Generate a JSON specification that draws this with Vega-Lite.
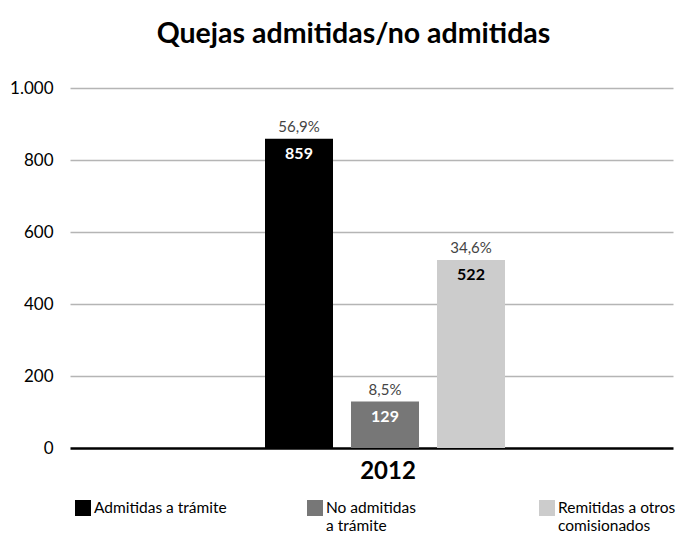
{
  "$schema": "https://vega.github.io/schema/vega-lite/v6.json",
  "autosize": "none",
  "width": 603,
  "height": 360,
  "padding": {"left": 70, "top": 88, "right": 6, "bottom": 87},
  "background": "white",
  "config": {
    "font": "Lato",
    "view": {"stroke": null},
    "locale": {"number": {"decimal": ",", "thousands": ".", "grouping": [3], "currency": ["", " €"]}}
  },
  "title": {
    "text": "Quejas admitidas/no admitidas",
    "fontSize": 28.5,
    "fontWeight": "bold",
    "color": "#000000",
    "anchor": "middle",
    "frame": "group",
    "dx": -18,
    "offset": 31
  },
  "data": {
    "values": [
      {"year": "2012", "serie": "Admitidas a trámite", "value": 859, "pct": 0.569},
      {"year": "2012", "serie": "No admitidas a trámite", "value": 129, "pct": 0.085},
      {"year": "2012", "serie": "Remitidas a otros comisionados", "value": 522, "pct": 0.346}
    ]
  },
  "encoding": {
    "x": {
      "field": "year",
      "type": "nominal",
      "scale": {"paddingInner": 0, "paddingOuter": 0.75625, "align": 0.5372},
      "axis": {
        "title": null,
        "domain": false,
        "ticks": false,
        "labelAngle": 0,
        "labelFontSize": 24,
        "labelFontWeight": "bold",
        "labelColor": "#000000",
        "labelPadding": 11,
        "labelOffset": 3
      }
    },
    "xOffset": {
      "field": "serie",
      "type": "nominal",
      "sort": ["Admitidas a trámite", "No admitidas a trámite", "Remitidas a otros comisionados"],
      "scale": {"paddingInner": 0.2093, "paddingOuter": 0}
    },
    "y": {
      "field": "value",
      "type": "quantitative",
      "scale": {"domain": [0, 1000]},
      "axis": {
        "title": null,
        "domain": false,
        "ticks": false,
        "values": [0, 200, 400, 600, 800, 1000],
        "format": ",d",
        "labelFontSize": 17,
        "labelColor": "#000000",
        "labelPadding": 17,
        "gridColor": {"condition": {"test": "datum.value === 0", "value": "#000000"}, "value": "#b5b5b5"},
        "gridWidth": {"condition": {"test": "datum.value === 0", "value": 2.5}, "value": 1.5}
      }
    }
  },
  "layer": [
    {
      "mark": {"type": "bar", "strokeWidth": 0},
      "encoding": {
        "color": {
          "field": "serie",
          "type": "nominal",
          "sort": ["Admitidas a trámite", "No admitidas a trámite", "Remitidas a otros comisionados"],
          "scale": {"range": ["#000000", "#777777", "#cccccc"]},
          "legend": {
            "title": null,
            "orient": "none",
            "legendX": 5,
            "legendY": 412,
            "direction": "horizontal",
            "columns": 3,
            "gridAlign": "all",
            "columnPadding": 80,
            "symbolType": "square",
            "symbolSize": 256,
            "symbolStrokeWidth": 0,
            "labelFontSize": 15.5,
            "labelColor": "#000000",
            "labelOffset": 3,
            "labelLimit": 300,
            "labelBaseline": "middle",
            "labelExpr": "datum.label === 'No admitidas a trámite' ? ['No admitidas', 'a trámite'] : datum.label === 'Remitidas a otros comisionados' ? ['Remitidas a otros', 'comisionados'] : [datum.label, '']"
          }
        }
      }
    },
    {
      "mark": {"type": "text", "baseline": "bottom", "dy": -4, "fontSize": 15, "color": "#444444"},
      "encoding": {
        "text": {"field": "pct", "type": "quantitative", "format": ".1%"}
      }
    },
    {
      "mark": {"type": "text", "baseline": "top", "dy": 7, "fontSize": 16, "fontWeight": "bold"},
      "encoding": {
        "text": {"field": "value", "type": "quantitative"},
        "color": {
          "condition": {"test": "datum.serie === 'Remitidas a otros comisionados'", "value": "#000000"},
          "value": "#ffffff"
        }
      }
    }
  ]
}
